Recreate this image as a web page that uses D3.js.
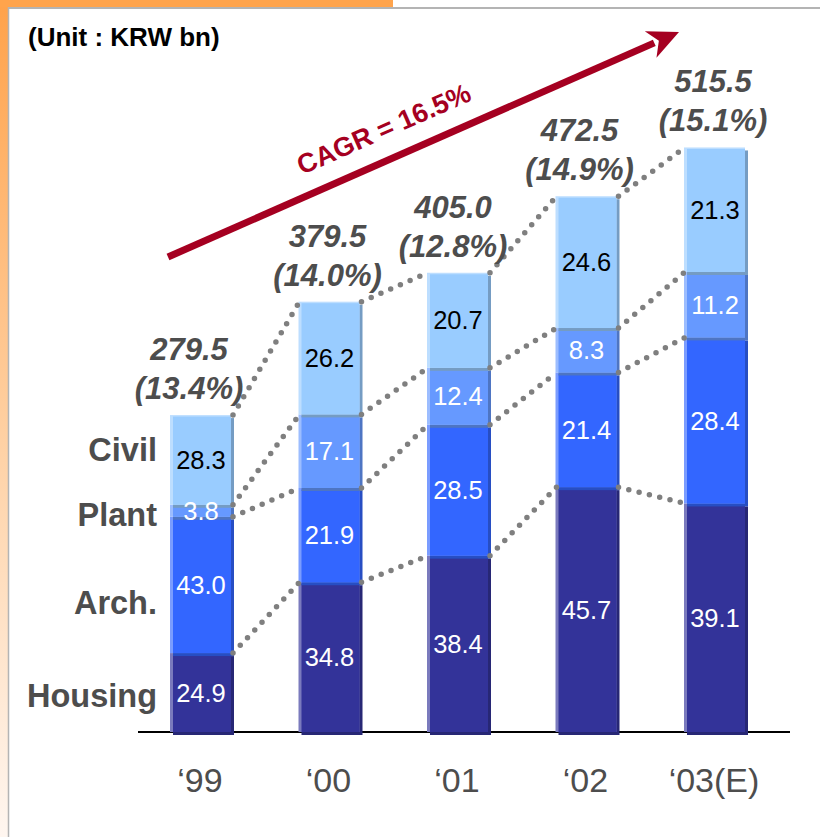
<!DOCTYPE html>
<html>
<head>
<meta charset="utf-8">
<script src="https://cdn.jsdelivr.net/npm/d3@7"></script>
<style>
  html, body { margin: 0; padding: 0; background: #fff; }
  svg { display: block; font-family: "Liberation Sans", Arial, sans-serif; }
</style>
</head>
<body>
<svg id="chart" width="820" height="837"></svg>
<script>
// Sales by business segment, KRW bn (segment values are % of each year's total)
const years = ["\u201899", "\u201800", "\u201801", "\u201802", "\u201803(E)"];
const totals = [279.5, 379.5, 405.0, 472.5, 515.5];
const growth = ["(13.4%)", "(14.0%)", "(12.8%)", "(14.9%)", "(15.1%)"];
const housing = [24.9, 34.8, 38.4, 45.7, 39.1];
const arch = [43.0, 21.9, 28.5, 21.4, 28.4];
const plant = [3.8, 17.1, 12.4, 8.3, 11.2];
const civil = [28.3, 26.2, 20.7, 24.6, 21.3];
const segmentNames = ["Housing", "Arch.", "Plant", "Civil"];
const unitLabel = "(Unit : KRW bn)";
const cagrLabel = "CAGR = 16.5%";

const segmentSeries = [housing, arch, plant, civil];
const colors = ["#333399", "#3366ff", "#6699ff", "#99ccff"];
const valueColors = ["#ffffff", "#ffffff", "#ffffff", "#000000"];

const svg = d3.select("#chart");
const W = 820, H = 837;

// ---- frame ----
const defs = svg.append("defs");
const grad = defs.append("linearGradient").attr("id", "sideFade")
  .attr("x1", 0).attr("y1", 0).attr("x2", 0).attr("y2", 1);
grad.append("stop").attr("offset", "0%").attr("stop-color", "#ffa24a");
grad.append("stop").attr("offset", "55%").attr("stop-color", "#ffd3a8");
grad.append("stop").attr("offset", "100%").attr("stop-color", "#fff6f0");
svg.append("rect").attr("x", 0).attr("y", 0).attr("width", 8).attr("height", H).attr("fill", "url(#sideFade)");
svg.append("rect").attr("x", 0).attr("y", 0).attr("width", 393).attr("height", 7).attr("fill", "#ffa44c");
svg.append("line").attr("x1", 8).attr("x2", W).attr("y1", 8).attr("y2", 8)
  .attr("stroke", "#b4b4b4").attr("stroke-width", 2);
svg.append("line").attr("x1", 8.5).attr("x2", 8.5).attr("y1", 7).attr("y2", H)
  .attr("stroke", "#b4b4b4").attr("stroke-width", 1.5);

// ---- scales ----
const x = d3.scalePoint().domain(years).range([202, 716]);
const y = d3.scaleLinear().domain([0, 560]).range([732, 97]);
const barW = 64, sh = 3;

// rows with segment amounts in KRW bn, stacked
const keys = ["housing", "arch", "plant", "civil"];
const rows = years.map((yr, i) => {
  const r = { year: yr, total: totals[i] };
  keys.forEach((k, j) => { r[k] = segmentSeries[j][i] * totals[i] / 100; });
  return r;
});
const stacked = d3.stack().keys(keys)(rows);

// ---- unit caption ----
svg.append("text").attr("x", 28).attr("y", 46)
  .attr("font-size", 26).attr("font-weight", "bold").attr("fill", "#000")
  .text(unitLabel);

// ---- CAGR arrow ----
const a0 = [168, 257], a1 = [679, 32];
const dx = a1[0] - a0[0], dy = a1[1] - a0[1], len = Math.hypot(dx, dy);
const ux = dx / len, uy = dy / len;
const headLen = 31, headHalf = 14.5;
const hb = [a1[0] - headLen * ux, a1[1] - headLen * uy];
svg.append("line").attr("x1", a0[0]).attr("y1", a0[1])
  .attr("x2", hb[0] + 4 * ux).attr("y2", hb[1] + 4 * uy)
  .attr("stroke", "#a50021").attr("stroke-width", 7);
svg.append("path")
  .attr("d", d3.line()([a1, [hb[0] - headHalf * uy, hb[1] + headHalf * ux], [hb[0] + 9 * ux, hb[1] + 9 * uy], [hb[0] + headHalf * uy, hb[1] - headHalf * ux]]) + "Z")
  .attr("fill", "#a50021");
const ang = Math.atan2(dy, dx) * 180 / Math.PI;
const tPt = [396, a0[1] + (396 - a0[0]) * dy / dx];
const tBase = [tPt[0] + 21 * uy, tPt[1] - 21 * ux];
svg.append("text")
  .attr("transform", `translate(${tBase[0]},${tBase[1]}) rotate(${ang})`)
  .attr("text-anchor", "middle").attr("font-size", 27).attr("font-weight", "bold")
  .attr("fill", "#a50021").text(cagrLabel);

// ---- axis baseline ----
svg.append("line").attr("x1", 138).attr("x2", 790).attr("y1", 732).attr("y2", 732)
  .attr("stroke", "#000").attr("stroke-width", 2);

// ---- bars (bevelled segments with offset shadow) ----
const bars = svg.append("g");
stacked.forEach((layer, j) => {
  const dark = d3.color(colors[j]).darker(0.75).formatHex();
  const light = d3.interpolateRgb(colors[j], "#ffffff")(0.35);
  layer.forEach((d, i) => {
    const x0 = x(years[i]) - barW / 2;
    const yTop = y(d[1]), yBot = y(d[0]);
    const h = yBot - yTop;
    const g = bars.append("g");
    g.append("rect").attr("x", x0 + sh).attr("y", yTop + sh).attr("width", barW - sh).attr("height", h).attr("fill", dark);
    g.append("rect").attr("x", x0).attr("y", yTop).attr("width", barW - sh).attr("height", h).attr("fill", light);
    g.append("rect").attr("x", x0 + 3).attr("y", yTop + 1.5).attr("width", barW - sh - 3).attr("height", h - 1.5).attr("fill", colors[j]);
  });
});

// ---- dotted connectors between neighbouring bars ----
const dotLine = d3.line();
const connectors = svg.append("g");
stacked.forEach(layer => {
  for (let i = 0; i < years.length - 1; i++) {
    const p0 = [x(years[i]) + barW / 2 - 1, y(layer[i][1])];
    const p1 = [x(years[i + 1]) - barW / 2 + 1, y(layer[i + 1][1])];
    connectors.append("path").attr("d", dotLine([p0, p1]))
      .attr("fill", "none").attr("stroke", "#7f7f7f").attr("stroke-width", 5.5)
      .attr("stroke-linecap", "round").attr("stroke-dasharray", "0 10.6");
  }
});

// ---- segment values ----
stacked.forEach((layer, j) => {
  layer.forEach((d, i) => {
    svg.append("text")
      .attr("x", x(years[i]) - 1)
      .attr("y", (y(d[0]) + y(d[1])) / 2)
      .attr("dy", "0.36em")
      .attr("text-anchor", "middle").attr("font-size", 25.5)
      .attr("fill", valueColors[j])
      .text(d3.format(".1f")(segmentSeries[j][i]));
  });
});

// ---- totals and growth ----
const totalShift = [-13, -3, -6, -8, -3];
rows.forEach((r, i) => {
  const cx = x(r.year) + totalShift[i], top = y(r.total);
  const t = svg.append("text").attr("text-anchor", "middle")
    .attr("font-size", 31).attr("font-weight", "bold").attr("font-style", "italic")
    .attr("fill", "#4d4d4d");
  t.append("tspan").attr("x", cx).attr("y", top - 55).text(d3.format(".1f")(r.total));
  t.append("tspan").attr("x", cx).attr("y", top - 16).text(growth[i]);
});

// ---- segment names beside the first bar ----
const nameNudge = [3, 17, 4, -11];
stacked.forEach((layer, j) => {
  const d = layer[0];
  svg.append("text").attr("x", 157)
    .attr("y", (y(d[0]) + y(d[1])) / 2 + nameNudge[j])
    .attr("dy", "0.36em").attr("text-anchor", "end")
    .attr("font-size", 32.5).attr("font-weight", "bold").attr("fill", "#4d4d4d")
    .text(segmentNames[j]);
});

// ---- year labels ----
years.forEach(yr => {
  svg.append("text").attr("x", x(yr) - 2).attr("y", 792)
    .attr("text-anchor", "middle").attr("font-size", 34).attr("fill", "#4d4d4d")
    .text(yr);
});
</script>
</body>
</html>
